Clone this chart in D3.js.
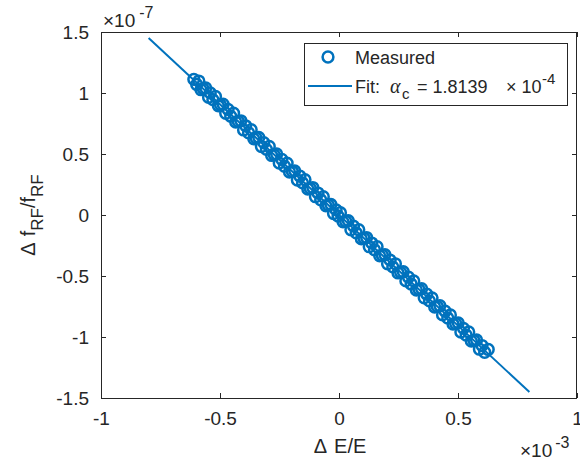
<!DOCTYPE html>
<html>
<head>
<meta charset="utf-8">
<script src="https://cdn.jsdelivr.net/npm/d3@7"></script>
<style>
  html, body { margin: 0; padding: 0; background: #fff; }
  svg { display: block; }
  text { font-family: "Liberation Sans", Arial, Helvetica, sans-serif; fill: #262626; }
</style>
</head>
<body>
<svg id="chart" width="580" height="463"></svg>
<script>
// Relative energy deviation (x 1e-3) and relative RF frequency shift (x 1e-7)
const measuredX = [
  -0.610, -0.598, -0.589, -0.580, -0.571, -0.560, -0.548, -0.541, -0.530, -0.519,
  -0.507, -0.498, -0.487, -0.476, -0.466, -0.455, -0.443, -0.434, -0.423, -0.412,
  -0.401, -0.392, -0.380, -0.369, -0.358, -0.349, -0.337, -0.326, -0.316, -0.305,
  -0.293, -0.283, -0.272, -0.262, -0.251, -0.240, -0.229, -0.218, -0.208, -0.196,
  -0.186, -0.175, -0.164, -0.153, -0.143, -0.131, -0.121, -0.110, -0.099, -0.088,
  -0.077, -0.066, -0.055, -0.045, -0.034, -0.023, -0.012, -0.004, 0.006, 0.017,
  0.028, 0.039, 0.050, 0.061, 0.072, 0.083, 0.094, 0.105, 0.116, 0.127,
  0.138, 0.149, 0.160, 0.171, 0.182, 0.193, 0.204, 0.215, 0.226, 0.237,
  0.248, 0.259, 0.270, 0.281, 0.292, 0.303, 0.314, 0.325, 0.336, 0.347,
  0.358, 0.369, 0.380, 0.391, 0.402, 0.413, 0.424, 0.435, 0.446, 0.457,
  0.468, 0.479, 0.490, 0.501, 0.512, 0.523, 0.534, 0.545, 0.556, 0.567,
  0.578, 0.590, 0.601, 0.612, 0.627
];
const measuredY = [
  1.112, 1.070, 1.098, 1.027, 1.036, 1.041, 0.964, 1.001, 0.946, 0.972,
  0.895, 0.903, 0.908, 0.834, 0.865, 0.810, 0.834, 0.762, 0.767, 0.772,
  0.697, 0.731, 0.674, 0.699, 0.624, 0.633, 0.636, 0.561, 0.593, 0.538,
  0.562, 0.488, 0.493, 0.500, 0.425, 0.455, 0.400, 0.425, 0.352, 0.356,
  0.362, 0.287, 0.318, 0.263, 0.289, 0.213, 0.219, 0.225, 0.150, 0.180,
  0.125, 0.150, 0.075, 0.082, 0.087, 0.012, 0.042, -0.008, 0.019, -0.056,
  -0.051, -0.046, -0.121, -0.091, -0.146, -0.121, -0.196, -0.190, -0.185, -0.260,
  -0.230, -0.285, -0.260, -0.335, -0.330, -0.325, -0.400, -0.370, -0.425, -0.400,
  -0.475, -0.470, -0.465, -0.540, -0.510, -0.565, -0.540, -0.615, -0.610, -0.604,
  -0.679, -0.649, -0.704, -0.679, -0.754, -0.749, -0.744, -0.819, -0.789, -0.844,
  -0.819, -0.894, -0.889, -0.884, -0.959, -0.929, -0.984, -0.959, -1.034, -1.029,
  -1.024, -1.100, -1.070, -1.125, -1.102
];

// Momentum compaction factor from the fit (x 1e-4)
const alphaC = 1.8139;
const fitX = [-0.8, 0.8];

const xTicks = [-1, -0.5, 0, 0.5, 1];
const yTicks = [-1.5, -1, -0.5, 0, 0.5, 1, 1.5];

const blue = "#0072BD";
const axisColor = "#262626";

const svg = d3.select("#chart");
const plotLeft = 101, plotRight = 577, plotTop = 32, plotBottom = 398;

const x = d3.scaleLinear().domain([-1, 1]).range([plotLeft, plotRight]);
const y = d3.scaleLinear().domain([-1.5, 1.5]).range([plotBottom, plotTop]);

const fmt = d => String(d);

// Axes with inward ticks on all four sides
function styleAxis(g) {
  g.attr("font-family", null).attr("font-size", null);
  g.select(".domain").remove();
  g.selectAll(".tick line").attr("stroke", axisColor).attr("stroke-width", 1);
  g.selectAll(".tick text").attr("fill", axisColor).style("font-size", "19px");
}

svg.append("g").attr("transform", `translate(0,${plotBottom})`)
  .call(d3.axisBottom(x).tickValues(xTicks).tickFormat(fmt).tickSizeInner(-5).tickSizeOuter(0).tickPadding(13.5))
  .call(styleAxis)
  .selectAll(".tick text").attr("dy", "0.71em");

svg.append("g").attr("transform", `translate(0,${plotTop})`)
  .call(d3.axisTop(x).tickValues(xTicks).tickFormat("").tickSizeInner(-5).tickSizeOuter(0))
  .call(styleAxis);

svg.append("g").attr("transform", `translate(${plotLeft},0)`)
  .call(d3.axisLeft(y).tickValues(yTicks).tickFormat(fmt).tickSizeInner(-5).tickSizeOuter(0).tickPadding(12))
  .call(styleAxis);

svg.append("g").attr("transform", `translate(${plotRight},0)`)
  .call(d3.axisRight(y).tickValues(yTicks).tickFormat("").tickSizeInner(-5).tickSizeOuter(0))
  .call(styleAxis);

// Axes box
svg.append("rect")
  .attr("x", plotLeft + 0.5).attr("y", plotTop + 0.5)
  .attr("width", plotRight - plotLeft - 1).attr("height", plotBottom - plotTop)
  .attr("fill", "none").attr("stroke", axisColor).attr("stroke-width", 1);

// Measured points
svg.append("g").selectAll("circle")
  .data(measuredX.map((v, i) => [v, measuredY[i]]))
  .join("circle")
  .attr("cx", d => x(d[0]))
  .attr("cy", d => y(d[1]))
  .attr("r", 5.4)
  .attr("fill", "none")
  .attr("stroke", blue)
  .attr("stroke-width", 2.5);

// Linear fit: df/f = -alpha_c * dE/E  (1e-4 * 1e-3 / 1e-7 = 1)
const fitLine = d3.line().x(d => x(d)).y(d => y(-alphaC * d));
svg.append("path")
  .datum(fitX)
  .attr("d", fitLine)
  .attr("fill", "none")
  .attr("stroke", blue)
  .attr("stroke-width", 2);

// Exponent multipliers
const expTop = svg.append("text").attr("x", plotLeft + 2).attr("y", 27).style("font-size", "19px");
expTop.append("tspan").text("\u00D710");
expTop.append("tspan").attr("dx", 4).attr("dy", -9).style("font-size", "16px").text("-7");

const expBot = svg.append("text").attr("x", 520).attr("y", 457).style("font-size", "19px");
expBot.append("tspan").text("\u00D710");
expBot.append("tspan").attr("dx", 3).attr("dy", -9).style("font-size", "16px").text("-3");

// Axis labels
const xl = svg.append("text").attr("x", (plotLeft + plotRight) / 2 + 1).attr("y", 453)
  .attr("text-anchor", "middle").style("font-size", "20px");
xl.append("tspan").text("\u0394");
xl.append("tspan").attr("dx", 7).text("E/E");

const yl = svg.append("text")
  .attr("transform", `translate(35,${(plotTop + plotBottom) / 2}) rotate(-90)`)
  .attr("text-anchor", "middle").style("font-size", "20px");
yl.append("tspan").text("\u0394");
yl.append("tspan").attr("dx", 6).text("f");
yl.append("tspan").attr("dy", 8).style("font-size", "17px").text("RF");
yl.append("tspan").attr("dy", -8).text("/f");
yl.append("tspan").attr("dy", 8).style("font-size", "17px").text("RF");

// Legend
const lg = svg.append("g");
lg.append("rect")
  .attr("x", 304.5).attr("y", 43.5).attr("width", 263).attr("height", 62)
  .attr("fill", "#fff").attr("stroke", axisColor).attr("stroke-width", 1);
lg.append("circle").attr("cx", 328).attr("cy", 57).attr("r", 5.4)
  .attr("fill", "none").attr("stroke", blue).attr("stroke-width", 2.5);
lg.append("line").attr("x1", 308).attr("x2", 352).attr("y1", 86).attr("y2", 86)
  .attr("stroke", blue).attr("stroke-width", 2);
lg.append("text").attr("x", 355).attr("y", 63.5).style("font-size", "18px").text("Measured");

const ft = lg.append("text").attr("y", 92.5).style("font-size", "18px");
ft.append("tspan").attr("x", 355).text("Fit:");
ft.append("tspan").attr("x", 390).style("font-family", "'Liberation Serif', 'Times New Roman', serif")
  .style("font-style", "italic").style("font-size", "20px").text("\u03B1");
ft.append("tspan").attr("x", 402).attr("dy", 6).style("font-size", "15px").text("c");
ft.append("tspan").attr("x", 417).attr("dy", -6).text("= " + alphaC.toFixed(4));
ft.append("tspan").attr("x", 506).text("\u00D7 10");
ft.append("tspan").attr("x", 542).attr("dy", -9).style("font-size", "15px").text("-4");
</script>
</body>
</html>
